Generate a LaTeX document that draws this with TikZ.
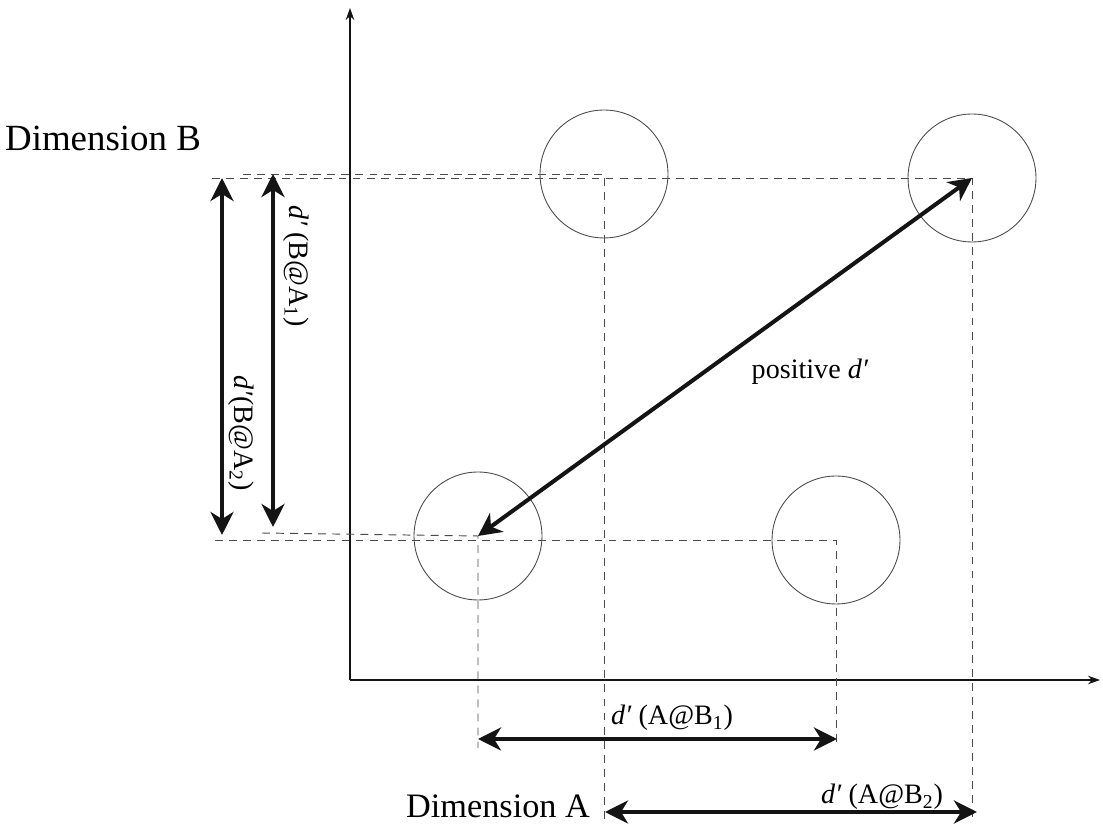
\documentclass[tikz,border=0pt]{standalone}
\usepackage{fontspec}
\setmainfont{Liberation Serif}
\usepackage{tikz}
\usetikzlibrary{arrows.meta,calc,positioning}
\usepackage{xcolor}
\definecolor{ink}{HTML}{141414}
\definecolor{faint}{HTML}{4A4A4A}
\tikzset{spot/.style={circle,draw=faint,line width=.5pt,minimum size=2.56cm,inner sep=0pt}, guide/.style={draw=faint,line width=.55pt,dash pattern=on 4.5pt off 3.5pt}, axis/.style={draw=ink,line width=1.1pt,-{Stealth[length=.24cm,width=.17cm]}}, span/.style={draw=ink,line width=2.3pt,{Stealth[length=.46cm,width=.46cm,inset=.14cm]}-{Stealth[length=.46cm,width=.46cm,inset=.14cm]}}, dimlabel/.style={font=\fontsize{21}{24}\selectfont,inner sep=1pt}, spanlabel/.style={font=\fontsize{16}{18}\selectfont,inner sep=1pt}}

\begin{document}
\begin{tikzpicture}[x=.02cm,y=-.02cm]
\useasboundingbox (0,0) rectangle (1103,830);
% axes
\coordinate (origin) at (350,680);
\draw[axis] (origin) -- (350,8) coordinate (ytip);
\draw[axis] (origin) -- (1100,680) coordinate (xtip);
% the four stimuli
\foreach \nm/\px/\py in {c11/478/536,c21/836/540,c12/604/174,c22/972/178}
 \node[spot] (\nm) at (\px,\py) {};
\coordinate (footA) at (0,748);
\coordinate (footB) at (0,822);
% dashed guides
\draw[guide] (212,178) -- (c22.center) -- (c22.center |- footB);
\draw[guide] (243,174) -- (c12.center) -- (c12.center |- footB);
\draw[guide] (262,533) -- (c11.center) -- (c11.center |- footA);
\draw[guide] (215,540) -- (c21.center) -- (c21.center |- footA);
% d' spans
\coordinate (ba1top) at (273,174);
\coordinate (ba1bot) at (273,527);
\coordinate (ba2top) at (222,178);
\coordinate (ba2bot) at (222,535);
\coordinate (ab1l) at (478,739);
\coordinate (ab1r) at (837,739);
\coordinate (ab2l) at (605,812);
\coordinate (ab2r) at (977,812);
\draw[span] (ba1top) -- (ba1bot);
\draw[span] (ba2top) -- (ba2bot);
\draw[span] (ab1l) -- (ab1r);
\draw[span] (ab2l) -- (ab2r);
\draw[span] (c11.center) -- (c22.center);
% labels
\node[dimlabel] (dimB) at (103,138) {Dimension B};
\node[dimlabel,font=\fontsize{19.5}{22}\selectfont] (dimA) at (498,806) {Dimension A};
\node[spanlabel,rotate=-90] (lbBA1) at (296,266) {\textit{d′} (B@A\textsubscript{1})};
\node[spanlabel,rotate=-90] (lbBA2) at (241,433) {\textit{d′}(B@A\textsubscript{2})};
\node[spanlabel] (lbAB1) at (672,718) {\textit{d′} (A@B\textsubscript{1})};
\node[spanlabel] (lbAB2) at (882,797) {\textit{d′} (A@B\textsubscript{2})};
\node[spanlabel] (lbpos) at (810,372) {positive \textit{d′}};
\end{tikzpicture}
\end{document}
